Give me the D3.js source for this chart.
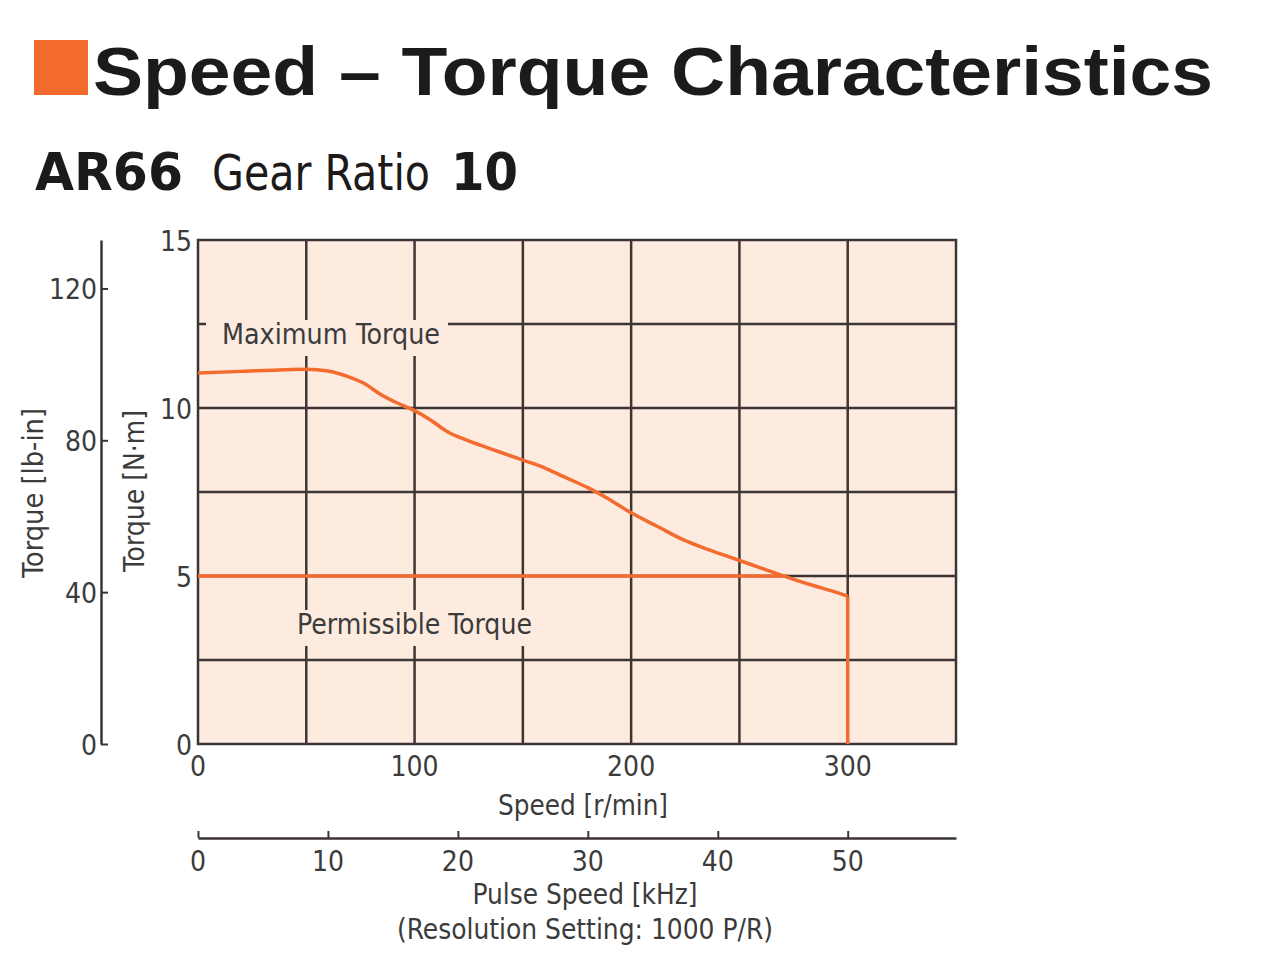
<!DOCTYPE html>
<html>
<head>
<meta charset="utf-8">
<script src="https://cdn.jsdelivr.net/npm/d3@7/dist/d3.min.js"></script>
<style>
  body { margin: 0; background: #fff; }
  text { font-family: "Liberation Sans Narrow", "DejaVu Sans Condensed", "Roboto", sans-serif; }
</style>
</head>
<body>
<svg id="chart"></svg>
<script>
const width = 1280
const height = 979

// Maximum torque curve, speed [r/min] vs torque [N·m]
const maxSpeed = [0, 20, 40, 50, 60, 69, 77, 84, 92, 99, 107, 115, 125, 138, 150, 160, 168, 180, 190, 200, 212, 225, 235, 244, 255, 265, 275, 286, 293, 300]
const maxTorque = [11.04, 11.09, 11.14, 11.15, 11.10, 10.94, 10.72, 10.42, 10.15, 9.95, 9.66, 9.30, 9.02, 8.72, 8.45, 8.22, 7.98, 7.63, 7.28, 6.88, 6.48, 6.05, 5.80, 5.60, 5.35, 5.12, 4.90, 4.68, 4.55, 4.40]
// Permissible torque line
const permSpeed = [0, 272]
const permTorque = [5.0, 5.0]
// Drop to zero at max speed
const dropSpeed = [300, 300]
const dropTorque = [4.40, 0]

const speedTicks = [0, 100, 200, 300]
const speedGrid = [50, 100, 150, 200, 250, 300]
const torqueTicks = [0, 5, 10, 15]
const torqueGrid = [2.5, 5, 7.5, 10, 12.5]
const lbinTicks = [0, 40, 80, 120]
const pulseTicks = [0, 10, 20, 30, 40, 50]

const svg = d3.select('#chart')
    .attr('width', width)
    .attr('height', height);

const plot = { left: 198, right: 956, top: 240, bottom: 744 };
const fill = '#fdebdf';
const gridColor = '#3d3535';
const textColor = '#3b3b3b';
const orange = '#f36b2f';

const x = d3.scaleLinear().domain([0, 350]).range([plot.left, plot.right]);
const y = d3.scaleLinear().domain([0, 15]).range([plot.bottom, plot.top]);
// 1 N·m = 8.851 lb-in
const yLb = d3.scaleLinear().domain([0, 15 * 8.851]).range([plot.bottom, plot.top]);
const xPulse = d3.scaleLinear().domain([0, 350 / 6]).range([plot.left, plot.right]);

// Title
svg.append('rect')
    .attr('x', 34).attr('y', 40).attr('width', 54).attr('height', 55)
    .attr('fill', '#f26a2c');
svg.append('text')
    .attr('x', 93).attr('y', 95)
    .attr('textLength', 1120).attr('lengthAdjust', 'spacingAndGlyphs')
    .style('font-family', '"Liberation Sans", Arial, sans-serif')
    .style('font-weight', 'bold').style('font-size', '68px')
    .attr('fill', '#1c1a1a')
    .text('Speed – Torque Characteristics');

// Subtitle
svg.append('text')
    .attr('x', 35).attr('y', 190)
    .attr('textLength', 148).attr('lengthAdjust', 'spacingAndGlyphs')
    .style('font-family', '"DejaVu Sans", sans-serif')
    .style('font-weight', 'bold').style('font-size', '52px')
    .attr('fill', '#1c1a1a')
    .text('AR66');
svg.append('text')
    .attr('x', 212).attr('y', 190)
    .attr('textLength', 218).attr('lengthAdjust', 'spacingAndGlyphs')
    .style('font-size', '50px')
    .attr('fill', '#1c1a1a')
    .text('Gear Ratio');
svg.append('text')
    .attr('x', 451).attr('y', 190)
    .attr('textLength', 67).attr('lengthAdjust', 'spacingAndGlyphs')
    .style('font-family', '"DejaVu Sans", sans-serif')
    .style('font-weight', 'bold').style('font-size', '52px')
    .attr('fill', '#1c1a1a')
    .text('10');

// Plot background
svg.append('rect')
    .attr('x', plot.left).attr('y', plot.top)
    .attr('width', plot.right - plot.left).attr('height', plot.bottom - plot.top)
    .attr('fill', fill);

// Grid
svg.append('g').selectAll('line')
    .data(speedGrid).enter().append('line')
    .attr('x1', d => x(d)).attr('x2', d => x(d))
    .attr('y1', plot.top).attr('y2', plot.bottom)
    .attr('stroke', gridColor).attr('stroke-width', 2.5);
svg.append('g').selectAll('line')
    .data(torqueGrid).enter().append('line')
    .attr('x1', plot.left).attr('x2', plot.right)
    .attr('y1', d => y(d)).attr('y2', d => y(d))
    .attr('stroke', gridColor).attr('stroke-width', 2.5);

// Border
svg.append('rect')
    .attr('x', plot.left).attr('y', plot.top)
    .attr('width', plot.right - plot.left).attr('height', plot.bottom - plot.top)
    .attr('fill', 'none').attr('stroke', gridColor).attr('stroke-width', 2.5);

// Labels inside plot, with background patches over the grid
function plotLabel(txt, lx, ly, len, padL, padR) {
    svg.append('rect')
        .attr('x', lx - padL).attr('y', ly - 24)
        .attr('width', len + padL + padR).attr('height', 36)
        .attr('fill', fill);
    svg.append('text')
        .attr('x', lx).attr('y', ly)
        .attr('textLength', len).attr('lengthAdjust', 'spacingAndGlyphs')
        .style('font-size', '28px').attr('fill', textColor)
        .text(txt);
}
plotLabel('Maximum Torque', 222, 344, 218, 16, 8);
plotLabel('Permissible Torque', 297, 634, 235, 6, 6);

// Curves
const smooth = d3.line().curve(d3.curveMonotoneX).x(d => x(d[0])).y(d => y(d[1]));
const straight = d3.line().x(d => x(d[0])).y(d => y(d[1]));
svg.append('path')
    .datum(d3.zip(maxSpeed, maxTorque))
    .attr('d', smooth)
    .attr('fill', 'none').attr('stroke', orange)
    .attr('stroke-width', 3.5).attr('stroke-linejoin', 'round');
svg.append('g').selectAll('path')
    .data([d3.zip(permSpeed, permTorque), d3.zip(dropSpeed, dropTorque)])
    .enter().append('path')
    .attr('d', straight)
    .attr('fill', 'none').attr('stroke', orange)
    .attr('stroke-width', 3.5).attr('stroke-linejoin', 'round');

// N·m tick labels
svg.append('g').selectAll('text')
    .data(torqueTicks).enter().append('text')
    .attr('x', 192)
    .attr('y', d => y(d) + 11)
    .attr('text-anchor', 'end')
    .style('font-size', '28px').attr('fill', textColor)
    .text(d => d);

// Speed tick labels
svg.append('g').selectAll('text')
    .data(speedTicks).enter().append('text')
    .attr('x', d => x(d))
    .attr('y', 776)
    .attr('text-anchor', 'middle')
    .style('font-size', '28px').attr('fill', textColor)
    .text(d => d);

// lb-in axis
const lbAxis = d3.axisRight(yLb).tickValues(lbinTicks).tickSize(7).tickSizeOuter(0).tickFormat('');
const lbG = svg.append('g')
    .attr('transform', 'translate(101,0)')
    .call(lbAxis);
lbG.select('.domain').attr('stroke', gridColor).attr('stroke-width', 2.5);
lbG.selectAll('.tick line').attr('stroke', gridColor).attr('stroke-width', 2);
svg.append('g').selectAll('text')
    .data(lbinTicks).enter().append('text')
    .attr('x', 97)
    .attr('y', d => yLb(d) + 11)
    .attr('text-anchor', 'end')
    .style('font-size', '28px').attr('fill', textColor)
    .text(d => d);

// Pulse speed axis
const pulseAxis = d3.axisTop(xPulse).tickValues(pulseTicks).tickSize(7).tickSizeOuter(0).tickFormat('');
const pG = svg.append('g')
    .attr('transform', 'translate(0,838)')
    .call(pulseAxis);
pG.select('.domain').attr('stroke', gridColor).attr('stroke-width', 2.5);
pG.selectAll('.tick line').attr('stroke', gridColor).attr('stroke-width', 2);
svg.append('g').selectAll('text')
    .data(pulseTicks).enter().append('text')
    .attr('x', d => xPulse(d))
    .attr('y', 871)
    .attr('text-anchor', 'middle')
    .style('font-size', '28px').attr('fill', textColor)
    .text(d => d);

// Axis titles
function axisTitle(txt, tx, ty, len, rotate) {
    svg.append('text')
        .attr('transform', `translate(${tx},${ty})` + (rotate ? ' rotate(-90)' : ''))
        .attr('text-anchor', 'middle')
        .attr('textLength', len).attr('lengthAdjust', 'spacingAndGlyphs')
        .style('font-size', '28px').attr('fill', textColor)
        .text(txt);
}
axisTitle('Speed [r/min]', 583, 815, 170, false);
axisTitle('Pulse Speed [kHz]', 585, 904, 225, false);
axisTitle('(Resolution Setting: 1000 P/R)', 585, 939, 376, false);
axisTitle('Torque [lb-in]', 43, 493, 170, true);
axisTitle('Torque [N·m]', 144, 491, 162, true);
</script>
</body>
</html>
